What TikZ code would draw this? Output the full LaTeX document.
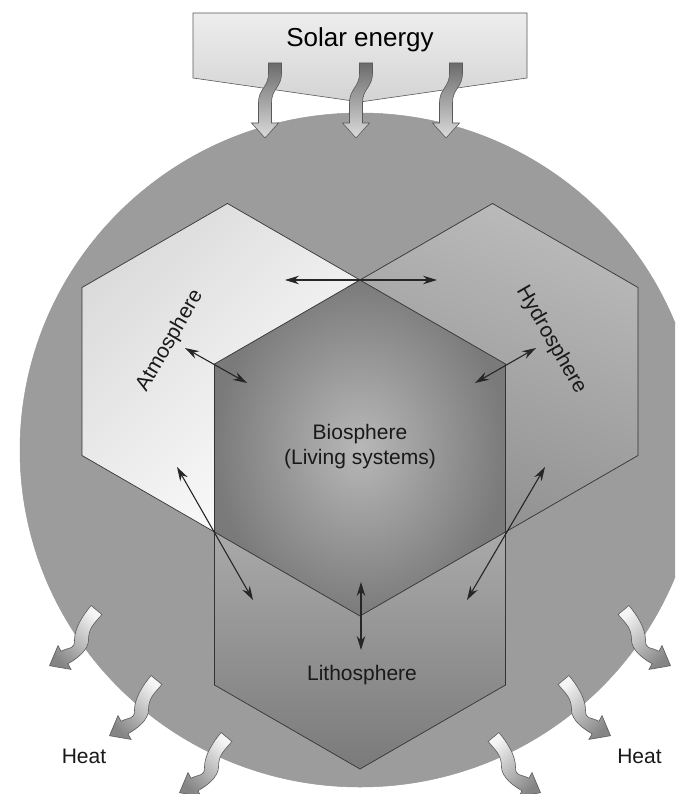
\documentclass[tikz,border=0pt]{standalone}
\usepackage{fontspec}
\setmainfont{Liberation Sans}
\usetikzlibrary{arrows.meta}

% grey tones
\definecolor{discgray}{gray}{0.61}
\definecolor{atmoA}{gray}{0.86}
\definecolor{hydroA}{gray}{0.73}
\definecolor{hydroB}{gray}{0.56}
\definecolor{bioIn}{gray}{0.72}
\definecolor{bioOut}{gray}{0.48}
\definecolor{lithoA}{gray}{0.74}
\definecolor{lithoB}{gray}{0.48}
\definecolor{boxA}{gray}{0.93}
\definecolor{boxB}{gray}{0.83}
\definecolor{sunA}{gray}{0.42}
\definecolor{sunB}{gray}{0.86}
\definecolor{heatA}{gray}{0.96}
\definecolor{heatB}{gray}{0.52}

% regular hexagon (circumradius 168) around the current origin
\newcommand\hexagon{(90:168) -- (150:168) -- (210:168) -- (270:168) -- (330:168) -- (30:168) -- cycle}
% wavy downward arrow, tail centre at the origin
\newcommand\sunarrow{(-6.5,0) -- (6.5,0) -- (6.5,10) .. controls (6.5,25) and (-3.5,25) .. (-3.5,40) -- (-3.5,60) -- (3.5,60) -- (-10,75) -- (-23.5,60) -- (-16.5,60) -- (-16.5,40) .. controls (-16.5,25) and (-6.5,25) .. (-6.5,10) -- cycle}
% wavy outgoing heat arrow, tail centre at the origin
\newcommand\heatarrow{(5.4,4.5) .. controls (-2.6,14) and (-8,18) .. (-8,30) .. controls (-8,40) and (-19.8,48.9) .. (-28.6,53.7) -- (-25.5,59.4) -- (-47,55.7) -- (-38.5,35.6) -- (-35.4,41.3) .. controls (-26.6,36.5) and (-22,40) .. (-22,30) .. controls (-22,18) and (-13.4,5) .. (-5.4,-4.5) -- cycle}

\begin{document}
\begin{tikzpicture}[x=1pt,y=-1pt,
  hexline/.style={draw=black!80, line width=0.7pt},
  flowline/.style={draw=black!65, line width=0.6pt},
  link/.style={{Stealth[length=14pt,width=8.5pt]}-{Stealth[length=14pt,width=8.5pt]},
               line width=1.1pt, draw=black!85},
  lbl/.style={font=\fontsize{21}{25}\selectfont, inner sep=0pt, text=black!90},
]
\useasboundingbox (0,0) rectangle (675,794);
\clip (0,0) rectangle (675,794);
\fill[white] (0,0) rectangle (675,794);

% the Earth disc
\path[fill=discgray, draw=black!40, line width=0.5pt] (360,450) ellipse [x radius=340, y radius=337];

% solar energy banner
\path[flowline, top color=boxA, bottom color=boxB]
  (193,13) -- (527,13) -- (527,78) -- (360,102) -- (193,78) -- cycle;
\node[font=\fontsize{26}{30}\selectfont, inner sep=0pt, anchor=base] (solar) at (360,47) {Solar energy};

% incoming solar radiation
\foreach \x in {275,366,456}
  \path[flowline, top color=sunA, bottom color=sunB, shift={(\x,63)}] \sunarrow;

% outer spheres
\path[hexline, top color=atmoA, bottom color=white, shading angle=45, shift={(227.5,371.5)}] \hexagon;
\path[hexline, left color=hydroA, right color=hydroB, shading angle=-20, shift={(492.5,371.5)}] \hexagon;
\path[hexline, top color=lithoA, bottom color=lithoB, shift={(360,601)}] \hexagon;
% biosphere in the middle
\path[hexline, inner color=bioIn, outer color=bioOut, shift={(360,448)}] \hexagon;

% heat leaving the disc
\foreach \x/\y in {96.5/610, 156.5/680, 226.5/737}
  \path[flowline, top color=heatA, bottom color=heatB, shading angle=-45, shift={(\x,\y)}] \heatarrow;
\foreach \x/\y in {623.5/610, 563.5/680, 493.5/737}
  \path[flowline, top color=heatA, bottom color=heatB, shading angle=45, shift={(\x,\y)}, xscale=-1] \heatarrow;

% exchange arrows
\coordinate (topL) at (285,280);
\coordinate (topR) at (437,280);
\coordinate (atmIn) at (185,348);
\coordinate (atmBio) at (247,383);
\coordinate (hydIn) at (536,348);
\coordinate (hydBio) at (475,383);
\coordinate (atmLow) at (177,467);
\coordinate (litL) at (253,600);
\coordinate (hydLow) at (545,467);
\coordinate (litR) at (467,600);
\coordinate (bioLow) at (361,582);
\coordinate (litTop) at (361,650);
\draw[link] (topL) -- (topR);
\draw[link] (atmIn) -- (atmBio);
\draw[link] (hydIn) -- (hydBio);
\draw[link] (atmLow) -- (litL);
\draw[link] (hydLow) -- (litR);
\draw[link] (bioLow) -- (litTop);

% labels
\node[lbl, rotate=60] (atm) at (170,341) {Atmosphere};
\node[lbl, rotate=-60] (hyd) at (551,340) {Hydrosphere};
\node[lbl, align=center] (bio) at (360,447) {Biosphere\\(Living systems)};
\node[lbl, anchor=base] (lith) at (362,680) {Lithosphere};
\node[lbl, anchor=base] (heatL) at (84,763) {Heat};
\node[lbl, anchor=base] (heatR) at (639.5,763) {Heat};
\end{tikzpicture}
\end{document}
